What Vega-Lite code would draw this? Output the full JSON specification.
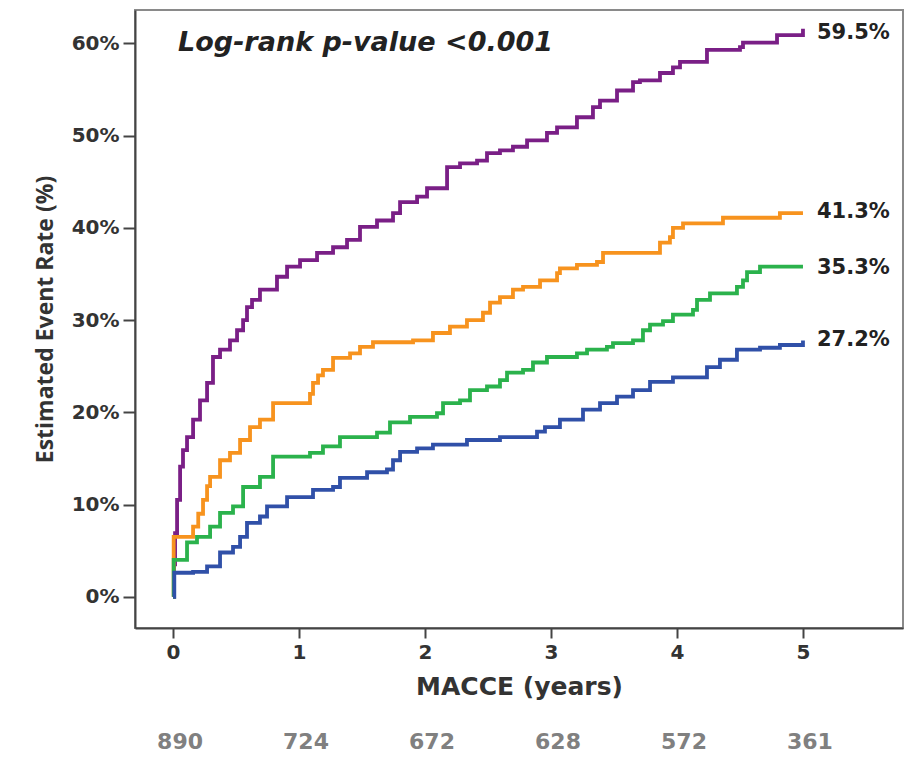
{
  "$schema": "https://vega.github.io/schema/vega-lite/v6.json",
  "autosize": {"type": "none"},
  "padding": {"left": 135, "top": 10, "right": 2, "bottom": 129},
  "width": 768,
  "height": 618,
  "background": "white",
  "config": {
    "view": {"stroke": "#8a8a8a", "strokeWidth": 2},
    "axis": {"grid": false, "domainColor": "#444", "domainWidth": 2, "tickColor": "#444", "tickWidth": 2}
  },
  "datasets": {
    "curves": [
      {"group":"Group 4","year":0,"rate":0},{"group":"Group 4","year":0.008,"rate":3.5},{"group":"Group 4","year":0.016,"rate":6.9},{"group":"Group 4","year":0.032,"rate":10.5},{"group":"Group 4","year":0.056,"rate":14.1},{"group":"Group 4","year":0.079,"rate":15.9},{"group":"Group 4","year":0.111,"rate":17.3},{"group":"Group 4","year":0.159,"rate":19.2},{"group":"Group 4","year":0.214,"rate":21.3},{"group":"Group 4","year":0.27,"rate":23.2},{"group":"Group 4","year":0.317,"rate":26.0},{"group":"Group 4","year":0.373,"rate":26.8},{"group":"Group 4","year":0.452,"rate":27.8},{"group":"Group 4","year":0.508,"rate":28.9},{"group":"Group 4","year":0.556,"rate":30.0},{"group":"Group 4","year":0.587,"rate":31.4},{"group":"Group 4","year":0.627,"rate":32.2},{"group":"Group 4","year":0.69,"rate":33.3},{"group":"Group 4","year":0.825,"rate":34.7},{"group":"Group 4","year":0.905,"rate":35.8},{"group":"Group 4","year":1.008,"rate":36.5},{"group":"Group 4","year":1.143,"rate":37.3},{"group":"Group 4","year":1.27,"rate":37.9},{"group":"Group 4","year":1.381,"rate":38.7},{"group":"Group 4","year":1.484,"rate":40.1},{"group":"Group 4","year":1.619,"rate":40.8},{"group":"Group 4","year":1.746,"rate":41.6},{"group":"Group 4","year":1.802,"rate":42.8},{"group":"Group 4","year":1.937,"rate":43.4},{"group":"Group 4","year":2.016,"rate":44.3},{"group":"Group 4","year":2.175,"rate":46.6},{"group":"Group 4","year":2.278,"rate":47.0},{"group":"Group 4","year":2.413,"rate":47.3},{"group":"Group 4","year":2.492,"rate":48.1},{"group":"Group 4","year":2.595,"rate":48.4},{"group":"Group 4","year":2.698,"rate":48.8},{"group":"Group 4","year":2.81,"rate":49.5},{"group":"Group 4","year":2.968,"rate":50.3},{"group":"Group 4","year":3.048,"rate":50.9},{"group":"Group 4","year":3.206,"rate":52.0},{"group":"Group 4","year":3.333,"rate":53.1},{"group":"Group 4","year":3.389,"rate":53.8},{"group":"Group 4","year":3.524,"rate":54.9},{"group":"Group 4","year":3.651,"rate":55.8},{"group":"Group 4","year":3.706,"rate":56.0},{"group":"Group 4","year":3.865,"rate":56.8},{"group":"Group 4","year":3.968,"rate":57.4},{"group":"Group 4","year":4.024,"rate":58.0},{"group":"Group 4","year":4.238,"rate":59.3},{"group":"Group 4","year":4.5,"rate":59.6},{"group":"Group 4","year":4.524,"rate":60.1},{"group":"Group 4","year":4.794,"rate":60.9},{"group":"Group 4","year":5.0,"rate":61.6},
      {"group":"Group 3","year":0,"rate":0},{"group":"Group 3","year":0.005,"rate":6.5},{"group":"Group 3","year":0.159,"rate":7.6},{"group":"Group 3","year":0.2,"rate":9.0},{"group":"Group 3","year":0.238,"rate":10.5},{"group":"Group 3","year":0.27,"rate":12.0},{"group":"Group 3","year":0.294,"rate":13.0},{"group":"Group 3","year":0.373,"rate":14.8},{"group":"Group 3","year":0.452,"rate":15.6},{"group":"Group 3","year":0.532,"rate":17.0},{"group":"Group 3","year":0.611,"rate":18.4},{"group":"Group 3","year":0.69,"rate":19.2},{"group":"Group 3","year":0.794,"rate":21.0},{"group":"Group 3","year":1.087,"rate":22.0},{"group":"Group 3","year":1.111,"rate":23.2},{"group":"Group 3","year":1.151,"rate":24.0},{"group":"Group 3","year":1.19,"rate":24.6},{"group":"Group 3","year":1.27,"rate":25.9},{"group":"Group 3","year":1.405,"rate":26.4},{"group":"Group 3","year":1.484,"rate":27.1},{"group":"Group 3","year":1.587,"rate":27.6},{"group":"Group 3","year":1.905,"rate":27.8},{"group":"Group 3","year":2.063,"rate":28.6},{"group":"Group 3","year":2.198,"rate":29.3},{"group":"Group 3","year":2.333,"rate":30.0},{"group":"Group 3","year":2.46,"rate":30.8},{"group":"Group 3","year":2.516,"rate":31.9},{"group":"Group 3","year":2.595,"rate":32.5},{"group":"Group 3","year":2.698,"rate":33.3},{"group":"Group 3","year":2.778,"rate":33.6},{"group":"Group 3","year":2.913,"rate":34.3},{"group":"Group 3","year":3.048,"rate":35.1},{"group":"Group 3","year":3.071,"rate":35.6},{"group":"Group 3","year":3.206,"rate":36.0},{"group":"Group 3","year":3.365,"rate":36.3},{"group":"Group 3","year":3.413,"rate":37.3},{"group":"Group 3","year":3.865,"rate":38.4},{"group":"Group 3","year":3.944,"rate":39.0},{"group":"Group 3","year":3.968,"rate":40.0},{"group":"Group 3","year":4.048,"rate":40.5},{"group":"Group 3","year":4.365,"rate":41.1},{"group":"Group 3","year":4.817,"rate":41.6},{"group":"Group 3","year":5.0,"rate":41.6},
      {"group":"Group 2","year":0,"rate":0},{"group":"Group 2","year":0.005,"rate":4.0},{"group":"Group 2","year":0.111,"rate":5.9},{"group":"Group 2","year":0.19,"rate":6.5},{"group":"Group 2","year":0.294,"rate":7.6},{"group":"Group 2","year":0.373,"rate":9.1},{"group":"Group 2","year":0.476,"rate":9.8},{"group":"Group 2","year":0.556,"rate":11.9},{"group":"Group 2","year":0.69,"rate":13.0},{"group":"Group 2","year":0.794,"rate":15.2},{"group":"Group 2","year":1.087,"rate":15.6},{"group":"Group 2","year":1.19,"rate":16.3},{"group":"Group 2","year":1.325,"rate":17.3},{"group":"Group 2","year":1.619,"rate":17.8},{"group":"Group 2","year":1.722,"rate":18.9},{"group":"Group 2","year":1.881,"rate":19.5},{"group":"Group 2","year":2.095,"rate":19.9},{"group":"Group 2","year":2.143,"rate":21.0},{"group":"Group 2","year":2.278,"rate":21.3},{"group":"Group 2","year":2.357,"rate":22.4},{"group":"Group 2","year":2.492,"rate":22.8},{"group":"Group 2","year":2.595,"rate":23.5},{"group":"Group 2","year":2.651,"rate":24.3},{"group":"Group 2","year":2.778,"rate":24.6},{"group":"Group 2","year":2.857,"rate":25.4},{"group":"Group 2","year":2.968,"rate":26.0},{"group":"Group 2","year":3.206,"rate":26.4},{"group":"Group 2","year":3.286,"rate":26.8},{"group":"Group 2","year":3.444,"rate":27.1},{"group":"Group 2","year":3.492,"rate":27.5},{"group":"Group 2","year":3.651,"rate":27.8},{"group":"Group 2","year":3.73,"rate":28.9},{"group":"Group 2","year":3.786,"rate":29.5},{"group":"Group 2","year":3.889,"rate":29.9},{"group":"Group 2","year":3.968,"rate":30.6},{"group":"Group 2","year":4.127,"rate":31.1},{"group":"Group 2","year":4.159,"rate":32.2},{"group":"Group 2","year":4.262,"rate":32.9},{"group":"Group 2","year":4.476,"rate":33.6},{"group":"Group 2","year":4.524,"rate":34.3},{"group":"Group 2","year":4.556,"rate":35.2},{"group":"Group 2","year":4.659,"rate":35.8},{"group":"Group 2","year":5.0,"rate":35.8},
      {"group":"Group 1","year":0,"rate":0},{"group":"Group 1","year":0.01,"rate":2.6},{"group":"Group 1","year":0.159,"rate":2.7},{"group":"Group 1","year":0.27,"rate":3.3},{"group":"Group 1","year":0.373,"rate":4.8},{"group":"Group 1","year":0.476,"rate":5.4},{"group":"Group 1","year":0.532,"rate":6.5},{"group":"Group 1","year":0.587,"rate":8.0},{"group":"Group 1","year":0.69,"rate":8.7},{"group":"Group 1","year":0.746,"rate":9.8},{"group":"Group 1","year":0.905,"rate":10.8},{"group":"Group 1","year":1.111,"rate":11.6},{"group":"Group 1","year":1.27,"rate":11.9},{"group":"Group 1","year":1.325,"rate":12.9},{"group":"Group 1","year":1.54,"rate":13.5},{"group":"Group 1","year":1.698,"rate":13.8},{"group":"Group 1","year":1.746,"rate":14.8},{"group":"Group 1","year":1.802,"rate":15.7},{"group":"Group 1","year":1.937,"rate":16.1},{"group":"Group 1","year":2.063,"rate":16.5},{"group":"Group 1","year":2.333,"rate":17.0},{"group":"Group 1","year":2.595,"rate":17.3},{"group":"Group 1","year":2.889,"rate":17.9},{"group":"Group 1","year":2.952,"rate":18.4},{"group":"Group 1","year":3.071,"rate":19.2},{"group":"Group 1","year":3.254,"rate":20.3},{"group":"Group 1","year":3.389,"rate":21.0},{"group":"Group 1","year":3.524,"rate":21.7},{"group":"Group 1","year":3.651,"rate":22.4},{"group":"Group 1","year":3.786,"rate":23.3},{"group":"Group 1","year":3.968,"rate":23.8},{"group":"Group 1","year":4.238,"rate":24.9},{"group":"Group 1","year":4.341,"rate":25.7},{"group":"Group 1","year":4.476,"rate":26.8},{"group":"Group 1","year":4.659,"rate":27.0},{"group":"Group 1","year":4.817,"rate":27.3},{"group":"Group 1","year":5.0,"rate":27.8}
    ],
    "endLabels": [
      {"group":"Group 4","year":5,"rate":61.1,"label":"59.5%"},
      {"group":"Group 3","year":5,"rate":41.7,"label":"41.3%"},
      {"group":"Group 2","year":5,"rate":35.7,"label":"35.3%"},
      {"group":"Group 1","year":5,"rate":27.8,"label":"27.2%"}
    ],
    "atRisk": [
      {"year":0,"n":890},{"year":1,"n":724},{"year":2,"n":672},{"year":3,"n":628},{"year":4,"n":572},{"year":5,"n":361}
    ]
  },
  "layer": [
    {
      "data": {"name": "curves"},
      "mark": {"type": "line", "interpolate": "step-after", "strokeWidth": 3.8, "strokeJoin": "miter"},
      "encoding": {
        "x": {"field": "year", "type": "quantitative",
          "scale": {"domain": [-0.302, 5.794], "nice": false, "zero": false},
          "axis": {"values": [0,1,2,3,4,5], "format": "d", "title": "MACCE (years)", "tickSize": 10, "labelPadding": 4,
            "labelFont": "DejaVu Sans", "labelFontWeight": "bold", "labelFontSize": 20, "labelColor": "#333",
            "titleFont": "DejaVu Sans", "titleFontWeight": "bold", "titleFontSize": 25, "titleColor": "#333", "titlePadding": 12}},
        "y": {"field": "rate", "type": "quantitative",
          "scale": {"domain": [-3.39, 63.63], "nice": false, "zero": false},
          "axis": {"values": [0,10,20,30,40,50,60], "labelExpr": "datum.value + '%'", "title": "Estimated Event Rate (%)",
            "tickSize": 12, "labelPadding": 4,
            "labelFont": "DejaVu Sans", "labelFontWeight": "bold", "labelFontSize": 20, "labelColor": "#333",
            "titleFont": "Open Sans", "titleFontWeight": "bold", "titleFontSize": 23, "titleColor": "#333", "titlePadding": 14}},
        "color": {"field": "group", "type": "nominal",
          "scale": {"domain": ["Group 1","Group 2","Group 3","Group 4"], "range": ["#3050a8","#2bb24c","#f7931e","#7a1f86"]},
          "legend": null}
      }
    },
    {
      "data": {"name": "endLabels"},
      "mark": {"type": "text", "align": "left", "baseline": "middle", "dx": 14, "font": "DejaVu Sans", "fontWeight": "bold", "fontSize": 21, "color": "#222"},
      "encoding": {
        "x": {"field": "year", "type": "quantitative"},
        "y": {"field": "rate", "type": "quantitative"},
        "text": {"field": "label"}
      }
    },
    {
      "data": {"name": "atRisk"},
      "mark": {"type": "text", "align": "center", "baseline": "middle", "dx": 7, "font": "DejaVu Sans", "fontWeight": "bold", "fontSize": 22, "color": "#808080"},
      "encoding": {
        "x": {"field": "year", "type": "quantitative"},
        "y": {"datum": -15.7},
        "text": {"field": "n"}
      }
    },
    {
      "data": {"values": [{"note": "Log-rank p-value <0.001"}]},
      "mark": {"type": "text", "align": "left", "baseline": "middle", "font": "DejaVu Sans", "fontWeight": "bold", "fontStyle": "italic", "fontSize": 27, "color": "#222"},
      "encoding": {
        "x": {"datum": 0.04},
        "y": {"datum": 60},
        "text": {"field": "note"}
      }
    }
  ]
}
